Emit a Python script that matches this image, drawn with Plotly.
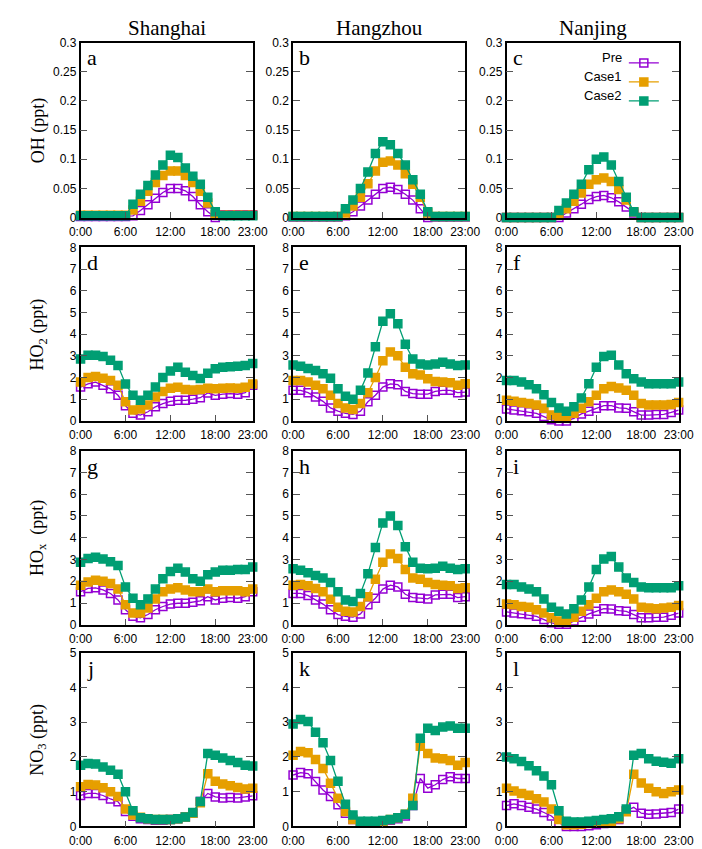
import plotly.graph_objects as go

hours = list(range(24))
x_tickvals = [0, 6, 12, 18, 23]
x_ticktext = ["0:00", "6:00", "12:00", "18:00", "23:00"]

cities = ["Shanghai", "Hangzhou", "Nanjing"]
series_names = ["Pre", "Case1", "Case2"]
panel_letters = ["a", "b", "c", "d", "e", "f", "g", "h", "i", "j", "k", "l"]

row_titles = ["OH (ppt)", "HO<sub>2</sub> (ppt)", "HO<sub>x</sub>  (ppt)", "NO<sub>3</sub> (ppt)"]
oh_ticks = [0, 0.05, 0.1, 0.15, 0.2, 0.25, 0.3]
oh_ticktext = ["0", "0.05", "0.1", "0.15", "0.2", "0.25", "0.3"]
ho2_ticks = [0, 1, 2, 3, 4, 5, 6, 7, 8]
hox_ticks = [0, 1, 2, 3, 4, 5, 6, 7, 8]
no3_ticks = [0, 1, 2, 3, 4, 5]

# ---- OH ----
oh_sh_pre = [0.002, 0.002, 0.002, 0.002, 0.002, 0.002, 0.002, 0.003, 0.012, 0.022, 0.033, 0.043, 0.05, 0.05, 0.046, 0.036, 0.022, 0.01, 0.0, 0.005, 0.005, 0.005, 0.005, 0.005]
oh_sh_c1 = [0.004, 0.004, 0.004, 0.004, 0.004, 0.004, 0.004, 0.013, 0.028, 0.045, 0.06, 0.072, 0.08, 0.08, 0.072, 0.06, 0.045, 0.025, 0.005, 0.004, 0.004, 0.004, 0.004, 0.004]
oh_sh_c2 = [0.003, 0.003, 0.003, 0.003, 0.003, 0.003, 0.003, 0.023, 0.04, 0.055, 0.073, 0.09, 0.107, 0.103, 0.085, 0.071, 0.057, 0.035, 0.01, 0.003, 0.003, 0.003, 0.003, 0.003]

oh_hz_pre = [0.001, 0.001, 0.001, 0.001, 0.001, 0.001, 0.001, 0.003, 0.01, 0.02, 0.03, 0.04, 0.05, 0.052, 0.048, 0.04, 0.03, 0.015, 0.0, 0.001, 0.001, 0.001, 0.001, 0.001]
oh_hz_c1 = [0.002, 0.002, 0.002, 0.002, 0.002, 0.002, 0.002, 0.008, 0.02, 0.035, 0.058, 0.08, 0.095, 0.097, 0.09, 0.075, 0.057, 0.035, 0.008, 0.002, 0.002, 0.002, 0.002, 0.002]
oh_hz_c2 = [0.002, 0.002, 0.002, 0.002, 0.002, 0.002, 0.002, 0.015, 0.03, 0.05, 0.078, 0.11, 0.13, 0.125, 0.11, 0.09, 0.065, 0.04, 0.01, 0.002, 0.002, 0.002, 0.002, 0.002]

oh_nj_pre = [0.0, 0.0, 0.0, 0.0, 0.0, 0.0, 0.0, 0.0, 0.008, 0.015, 0.023, 0.031, 0.036, 0.038, 0.034, 0.027, 0.018, 0.008, 0.0, 0.0, 0.0, 0.0, 0.0, 0.0]
oh_nj_c1 = [0.0, 0.0, 0.0, 0.0, 0.0, 0.0, 0.0, 0.005, 0.015, 0.028, 0.042, 0.057, 0.065, 0.068, 0.062, 0.048, 0.03, 0.01, 0.0, 0.0, 0.0, 0.0, 0.0, 0.0]
oh_nj_c2 = [0.0, 0.0, 0.0, 0.0, 0.0, 0.0, 0.0, 0.012, 0.025, 0.04, 0.057, 0.082, 0.1, 0.104, 0.09, 0.062, 0.035, 0.01, 0.0, 0.0, 0.0, 0.0, 0.0, 0.0]

# ---- HO2 ----
ho2_sh_pre = [1.56, 1.71, 1.79, 1.64, 1.48, 1.18, 0.7, 0.35, 0.27, 0.42, 0.65, 0.8, 0.9, 0.95, 0.95, 1.0, 1.07, 1.29, 1.18, 1.23, 1.26, 1.23, 1.3, 1.64]
ho2_sh_c1 = [1.79, 2.0, 2.05, 1.97, 1.86, 1.64, 0.88, 0.5, 0.55, 0.73, 1.1, 1.35, 1.5, 1.55, 1.45, 1.42, 1.45, 1.5, 1.48, 1.5, 1.52, 1.5, 1.55, 1.7]
ho2_sh_c2 = [2.85, 3.03, 3.03, 2.97, 2.8, 2.55, 1.7, 1.18, 0.95, 1.18, 1.56, 2.0, 2.3, 2.47, 2.24, 2.09, 1.95, 2.2, 2.4, 2.47, 2.5, 2.52, 2.55, 2.65]

ho2_hz_pre = [1.41, 1.41, 1.3, 1.1, 0.9, 0.6, 0.45, 0.35, 0.3, 0.45, 0.88, 1.18, 1.56, 1.71, 1.67, 1.36, 1.26, 1.23, 1.23, 1.36, 1.41, 1.41, 1.3, 1.33]
ho2_hz_c1 = [1.86, 1.86, 1.79, 1.64, 1.48, 1.18, 0.8, 0.6, 0.53, 0.8, 1.3, 2.0, 2.77, 3.18, 3.0, 2.47, 2.17, 2.12, 1.94, 1.82, 1.79, 1.76, 1.64, 1.71]
ho2_hz_c2 = [2.58, 2.52, 2.42, 2.32, 2.17, 1.97, 1.48, 1.14, 1.0, 1.41, 2.21, 3.42, 4.59, 4.94, 4.48, 3.53, 2.85, 2.62, 2.58, 2.62, 2.7, 2.62, 2.55, 2.58]

ho2_nj_pre = [0.55, 0.5, 0.47, 0.42, 0.35, 0.2, 0.05, 0.0, 0.0, 0.12, 0.32, 0.45, 0.58, 0.7, 0.7, 0.6, 0.58, 0.42, 0.27, 0.27, 0.3, 0.3, 0.39, 0.5]
ho2_nj_c1 = [0.95, 0.9, 0.85, 0.8, 0.73, 0.58, 0.27, 0.2, 0.2, 0.35, 0.58, 0.88, 1.18, 1.48, 1.59, 1.52, 1.41, 1.18, 0.8, 0.73, 0.73, 0.73, 0.76, 0.85]
ho2_nj_c2 = [1.86, 1.86, 1.79, 1.67, 1.48, 1.21, 0.85, 0.6, 0.45, 0.65, 1.06, 1.71, 2.47, 2.97, 3.03, 2.58, 2.17, 1.94, 1.79, 1.71, 1.71, 1.71, 1.71, 1.79]

# ---- HOx ----
hox_sh_pre = [1.52, 1.67, 1.7, 1.6, 1.44, 1.14, 0.69, 0.39, 0.32, 0.47, 0.69, 0.84, 0.95, 0.99, 0.99, 1.04, 1.1, 1.29, 1.14, 1.22, 1.25, 1.22, 1.29, 1.52]
hox_sh_c1 = [1.82, 1.97, 2.05, 2.0, 1.9, 1.64, 0.92, 0.54, 0.54, 0.77, 1.19, 1.52, 1.64, 1.7, 1.6, 1.52, 1.52, 1.64, 1.52, 1.56, 1.56, 1.56, 1.52, 1.64]
hox_sh_c2 = [2.87, 3.05, 3.1, 3.02, 2.9, 2.72, 1.74, 1.22, 0.92, 1.19, 1.64, 2.12, 2.45, 2.6, 2.42, 2.12, 2.0, 2.3, 2.42, 2.5, 2.5, 2.54, 2.54, 2.65]

hox_hz_pre = [1.44, 1.44, 1.34, 1.14, 0.95, 0.69, 0.47, 0.39, 0.35, 0.5, 0.92, 1.22, 1.64, 1.82, 1.74, 1.4, 1.25, 1.22, 1.19, 1.37, 1.4, 1.4, 1.25, 1.29]
hox_hz_c1 = [1.82, 1.85, 1.79, 1.67, 1.52, 1.17, 0.8, 0.62, 0.59, 0.84, 1.29, 2.09, 2.87, 3.25, 3.05, 2.54, 2.15, 2.09, 1.94, 1.85, 1.82, 1.79, 1.67, 1.7]
hox_hz_c2 = [2.57, 2.5, 2.39, 2.27, 2.15, 1.94, 1.52, 1.14, 1.07, 1.44, 2.35, 3.55, 4.68, 5.0, 4.56, 3.59, 2.87, 2.6, 2.57, 2.6, 2.69, 2.6, 2.54, 2.57]

hox_nj_pre = [0.59, 0.54, 0.51, 0.47, 0.39, 0.24, 0.09, 0.02, 0.02, 0.17, 0.35, 0.5, 0.62, 0.74, 0.72, 0.65, 0.62, 0.47, 0.32, 0.32, 0.35, 0.35, 0.44, 0.54]
hox_nj_c1 = [0.95, 0.92, 0.84, 0.8, 0.69, 0.54, 0.32, 0.17, 0.2, 0.35, 0.62, 0.92, 1.22, 1.52, 1.6, 1.52, 1.4, 1.19, 0.8, 0.77, 0.74, 0.77, 0.8, 0.89]
hox_nj_c2 = [1.85, 1.85, 1.74, 1.64, 1.52, 1.19, 0.8, 0.62, 0.5, 0.74, 1.14, 1.74, 2.54, 3.02, 3.14, 2.65, 2.15, 1.94, 1.74, 1.7, 1.7, 1.7, 1.7, 1.79]

# ---- NO3 ----
no3_sh_pre = [0.89, 0.95, 0.95, 0.89, 0.79, 0.71, 0.43, 0.29, 0.22, 0.2, 0.18, 0.18, 0.2, 0.22, 0.27, 0.38, 0.72, 0.95, 0.85, 0.82, 0.83, 0.82, 0.85, 0.88]
no3_sh_c1 = [1.14, 1.21, 1.19, 1.11, 1.0, 0.86, 0.5, 0.33, 0.26, 0.22, 0.2, 0.2, 0.2, 0.22, 0.27, 0.38, 0.68, 1.52, 1.3, 1.22, 1.17, 1.12, 1.08, 1.1]
no3_sh_c2 = [1.76, 1.81, 1.8, 1.71, 1.62, 1.5, 1.0, 0.45, 0.25, 0.22, 0.2, 0.2, 0.2, 0.22, 0.27, 0.4, 0.72, 2.1, 2.05, 1.97, 1.9, 1.84, 1.76, 1.74]

no3_hz_pre = [1.48, 1.55, 1.52, 1.29, 1.05, 0.86, 0.62, 0.38, 0.2, 0.12, 0.12, 0.13, 0.15, 0.18, 0.22, 0.3, 0.6, 1.38, 1.1, 1.2, 1.35, 1.43, 1.38, 1.38]
no3_hz_c1 = [2.05, 2.16, 2.12, 1.93, 1.67, 1.24, 0.81, 0.43, 0.2, 0.12, 0.12, 0.13, 0.15, 0.2, 0.25, 0.35, 0.81, 2.31, 2.1, 1.97, 1.95, 1.9, 1.76, 1.84]
no3_hz_c2 = [2.95, 3.08, 3.02, 2.71, 2.41, 1.9, 1.3, 0.64, 0.33, 0.15, 0.15, 0.15, 0.17, 0.2, 0.25, 0.35, 0.6, 2.54, 2.83, 2.76, 2.86, 2.89, 2.83, 2.83]

no3_nj_pre = [0.6, 0.65, 0.6, 0.55, 0.5, 0.4, 0.3, 0.1, 0.0, 0.0, 0.0, 0.02, 0.05, 0.08, 0.12, 0.2, 0.45, 0.55, 0.38, 0.35, 0.36, 0.38, 0.4, 0.5]
no3_nj_c1 = [1.1, 1.02, 0.95, 0.9, 0.8, 0.7, 0.5, 0.2, 0.05, 0.05, 0.06, 0.08, 0.1, 0.12, 0.15, 0.22, 0.42, 1.5, 1.25, 1.1, 1.0, 0.95, 1.0, 1.05]
no3_nj_c2 = [2.0, 1.95, 1.87, 1.75, 1.6, 1.45, 1.2, 0.45, 0.15, 0.13, 0.13, 0.15, 0.17, 0.2, 0.22, 0.28, 0.5, 2.05, 2.1, 1.95, 1.88, 1.85, 1.82, 1.95]

panels = [
    [oh_sh_pre, oh_sh_c1, oh_sh_c2], [oh_hz_pre, oh_hz_c1, oh_hz_c2], [oh_nj_pre, oh_nj_c1, oh_nj_c2],
    [ho2_sh_pre, ho2_sh_c1, ho2_sh_c2], [ho2_hz_pre, ho2_hz_c1, ho2_hz_c2], [ho2_nj_pre, ho2_nj_c1, ho2_nj_c2],
    [hox_sh_pre, hox_sh_c1, hox_sh_c2], [hox_hz_pre, hox_hz_c1, hox_hz_c2], [hox_nj_pre, hox_nj_c1, hox_nj_c2],
    [no3_sh_pre, no3_sh_c1, no3_sh_c2], [no3_hz_pre, no3_hz_c1, no3_hz_c2], [no3_nj_pre, no3_nj_c1, no3_nj_c2],
]
row_yticks = [(oh_ticks, oh_ticktext, [0, 0.3]),
              (ho2_ticks, [str(v) for v in ho2_ticks], [0, 8]),
              (hox_ticks, [str(v) for v in hox_ticks], [0, 8]),
              (no3_ticks, [str(v) for v in no3_ticks], [0, 5])]

W, H = 702, 849
col_px = [(63, 242), (284, 463), (506, 685)]
row_px = [(28, 206), (236.3, 412.7), (443, 620), (648.5, 825)]

colors = ["#9400D3", "#E69F00", "#009E73"]
symbols = ["square-open", "square", "square"]

fig = go.Figure()
layout = dict(width=W, height=H, margin=dict(l=0, r=0, t=0, b=0),
              paper_bgcolor="white", plot_bgcolor="white", showlegend=True)

tickfont = dict(family="Liberation Sans, Arial, sans-serif", size=12, color="#000")
annotations = []
for p in range(12):
    r, c = divmod(p, 3)
    idx = p + 1
    xa = "x" if idx == 1 else f"x{idx}"
    ya = "y" if idx == 1 else f"y{idx}"
    for s in range(3):
        fig.add_trace(go.Scatter(
            x=hours, y=panels[p][s], xaxis=xa, yaxis=ya, mode="lines+markers",
            line=dict(color=colors[s], width=1.3),
            marker=dict(symbol=symbols[s], size=8, color=colors[s],
                        line=dict(color=colors[s], width=1.5)),
            cliponaxis=False, name=" ", showlegend=(p == 2), legendrank=s))
    tv, tt, rng = row_yticks[r]
    x0, x1 = col_px[c]
    y0, y1 = row_px[r]
    layout["xaxis" if idx == 1 else f"xaxis{idx}"] = dict(
        domain=[x0 / W, x1 / W], anchor=ya, range=[0, 23], tickvals=x_tickvals, ticktext=x_ticktext,
        ticks="inside", ticklen=6, tickcolor="#555", showline=True, linecolor="black", linewidth=1.6,
        mirror=True, showgrid=False, zeroline=False, tickfont=tickfont, fixedrange=True,
        ticklabelstandoff=2)
    layout["yaxis" if idx == 1 else f"yaxis{idx}"] = dict(
        domain=[1 - y1 / H, 1 - y0 / H], anchor=xa, range=rng, tickvals=tv, ticktext=tt,
        ticks="inside", ticklen=7, tickcolor="#555", showline=True, linecolor="black", linewidth=1.6,
        mirror="ticks", showgrid=False, zeroline=False, tickfont=tickfont, fixedrange=True)
    annotations.append(dict(text=panel_letters[p], xref=f"{xa} domain", yref=f"{ya} domain",
                            x=0.025, y=0.995, xanchor="left", yanchor="top", showarrow=False,
                            font=dict(family="Liberation Serif, Times New Roman, serif", size=22, color="black")))

for c, name in enumerate(cities):
    x0, x1 = col_px[c]
    annotations.append(dict(text=name, xref="paper", yref="paper", x=(x0 + x1) / 2 / W, y=1 - 13 / H,
                            xanchor="center", yanchor="middle", showarrow=False,
                            font=dict(family="Liberation Serif, Times New Roman, serif", size=21, color="black")))
for r, t in enumerate(row_titles):
    y0, y1 = row_px[r]
    annotations.append(dict(text=t, xref="paper", yref="paper", x=19 / W, y=1 - (y0 + y1) / 2 / H,
                            xanchor="center", yanchor="middle", textangle=-90, showarrow=False,
                            font=dict(family="Liberation Serif, Times New Roman, serif", size=18, color="black")))

# legend labels placed left of the legend symbols
leg_top = 34
for s, nm in enumerate(series_names):
    annotations.append(dict(text=nm, xref="paper", yref="paper", x=628 / W, y=1 - (leg_top + 9.5 + 19 * s) / H,
                            xanchor="right", yanchor="middle", showarrow=False,
                            font=dict(family="Liberation Sans, Arial, sans-serif", size=13, color="black")))

layout["annotations"] = annotations
layout["legend"] = dict(x=628 / W, y=1 - leg_top / H, xanchor="left", yanchor="top",
                        bgcolor="rgba(0,0,0,0)", borderwidth=0, tracegroupgap=0,
                        font=dict(family="Liberation Sans, Arial, sans-serif", size=12))
fig.update_layout(**layout)
fig.write_html("out.html")
